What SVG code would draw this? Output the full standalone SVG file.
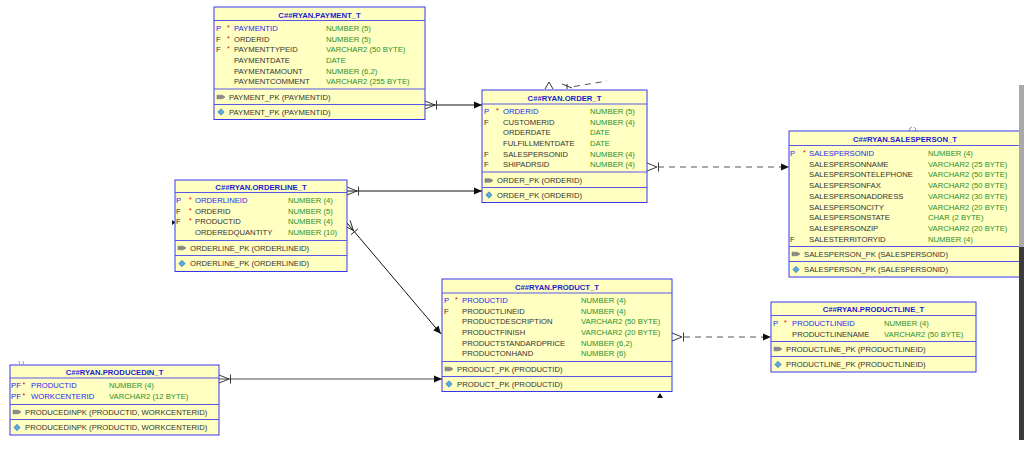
<svg xmlns="http://www.w3.org/2000/svg" width="1024" height="449" viewBox="0 0 1024 449">
<defs>
<style>
text{font-family:"Liberation Sans",Arial,sans-serif;font-size:7.7px;fill:#333}
.box{fill:#ffffc2;stroke:#3636f2;stroke-width:1}
.sep{stroke:#5858e8;stroke-width:1}
.hdr{font-weight:bold;fill:#1c1cd0;text-anchor:middle}
.pk{fill:#1f1ff5}
.ty{fill:#2a8f2a}
.ast{fill:#e00000;font-size:7px}
.conn{fill:none;stroke:#111;stroke-width:1}
.dash{fill:none;stroke:#555;stroke-width:1;stroke-dasharray:6 5}
.cf{fill:none;stroke:#222;stroke-width:0.9}
.key{fill:#8a8a8a;stroke:#666;stroke-width:0.5}
.dia{fill:#5aa8dc;stroke:#2a6fae;stroke-width:0.6}
</style>
<marker id="arr" viewBox="0 0 8 8" refX="8" refY="4" markerWidth="8" markerHeight="8" markerUnits="userSpaceOnUse" orient="auto">
<path d="M0,0.5 L8,4 L0,7.5 Z" fill="#111"/>
</marker>
<g id="keyicon"><path class="key" d="M0,-1.8 L5,-1.8 L7.5,-0.6 L7.5,0.6 L5,1.8 L0,1.8 Z"/></g>
<g id="diaicon"><path class="dia" d="M0,-3.2 L3.2,0 L0,3.2 L-3.2,0 Z"/></g>
</defs>

<!-- connectors -->
<g id="connectors">
<!-- payment -> order -->
<line class="conn" x1="425" y1="105" x2="482" y2="105" marker-end="url(#arr)"/>
<path class="cf" d="M425,101 L435,105 L425,109 M436.5,100.5 L436.5,109.5"/>
<!-- orderline -> order -->
<line class="conn" x1="347" y1="191" x2="482" y2="191" marker-end="url(#arr)"/>
<path class="cf" d="M347,187 L357,191 L347,195 M358.5,186.5 L358.5,195.5"/>
<!-- orderline -> product -->
<line class="conn" x1="347" y1="223" x2="441" y2="334" marker-end="url(#arr)"/>
<g transform="translate(347,223) rotate(49.7)">
<path class="cf" d="M0,-4 L10,0 L0,4 M11.5,-4.5 L11.5,4.5"/>
</g>
<!-- order -> salesperson -->
<line class="dash" x1="658" y1="167" x2="789" y2="167" marker-end="url(#arr)"/>
<path class="cf" d="M647,163 L657,167 L647,171 M658.5,162.5 L658.5,171.5"/>
<!-- product -> productline -->
<line class="dash" x1="684" y1="337" x2="771" y2="337" marker-end="url(#arr)"/>
<path class="cf" d="M672,333 L682,337 L672,341 M683.5,332.5 L683.5,341.5"/>
<!-- producedin -> product -->
<line x1="219" y1="379" x2="442" y2="379" stroke="#8a8a8a" stroke-width="1.6" marker-end="url(#arr)"/>
<path class="cf" d="M219,375 L229,379 L219,383 M230.5,374.5 L230.5,383.5"/>
<!-- fragments -->
<path class="cf" d="M545,89 L549,82 L553,89"/>
<path class="cf" d="M562,84 L572,88 M567,84 L567,89"/>
<line class="dash" x1="574" y1="86.5" x2="607" y2="81" stroke-dasharray="7 5"/>
<path d="M657,398 L660,393 L663,398 Z" fill="#111"/>
<path d="M172,220 L175.5,222.5 L172,225 Z" fill="#111"/>
<path d="M909,131 Q910,127 912,127 M914,127 Q916,128 916,131" fill="none" stroke="#666" stroke-width="0.7"/>
<path d="M19,361 L19.5,364 M23,361 L23.5,364" fill="none" stroke="#777" stroke-width="0.7"/>
</g>

<!-- PAYMENT_T -->
<g id="payment" transform="translate(214,7)">
<rect class="box" x="0" y="0" width="211" height="112.5"/>
<line class="sep" x1="0" y1="13.5" x2="211" y2="13.5"/>
<text class="hdr" x="105.5" y="10.5">C##RYAN.PAYMENT_T</text>
<text class="pk" x="2" y="23.8">P</text><text class="ast" x="13" y="22.8">*</text><text class="pk" x="20" y="23.8">PAYMENTID</text><text class="ty" x="112" y="23.8">NUMBER (5)</text>
<text x="2" y="34.5">F</text><text class="ast" x="13" y="33.5">*</text><text x="20" y="34.5">ORDERID</text><text class="ty" x="112" y="34.5">NUMBER (5)</text>
<text x="2" y="45.2">F</text><text class="ast" x="13" y="44.2">*</text><text x="20" y="45.2">PAYMENTTYPEID</text><text class="ty" x="112" y="45.2">VARCHAR2 (50 BYTE)</text>
<text x="20" y="55.9">PAYMENTDATE</text><text class="ty" x="112" y="55.9">DATE</text>
<text x="20" y="66.6">PAYMENTAMOUNT</text><text class="ty" x="112" y="66.6">NUMBER (6,2)</text>
<text x="20" y="77.3">PAYMENTCOMMENT</text><text class="ty" x="112" y="77.3">VARCHAR2 (255 BYTE)</text>
<line class="sep" x1="0" y1="82" x2="211" y2="82"/>
<use href="#keyicon" x="3" y="90"/><text x="15" y="92.8">PAYMENT_PK (PAYMENTID)</text>
<line class="sep" x1="0" y1="97.5" x2="211" y2="97.5"/>
<use href="#diaicon" x="7" y="105"/><text x="15" y="107.8">PAYMENT_PK (PAYMENTID)</text>
</g>

<!-- ORDER_T -->
<g id="order" transform="translate(482,90)">
<rect class="box" x="0" y="0" width="165" height="112.5"/>
<line class="sep" x1="0" y1="14" x2="165" y2="14"/>
<text class="hdr" x="82.5" y="10.6">C##RYAN.ORDER_T</text>
<text class="pk" x="2" y="23.8">P</text><text class="ast" x="14" y="22.8">*</text><text class="pk" x="21" y="23.8">ORDERID</text><text class="ty" x="108" y="23.8">NUMBER (5)</text>
<text x="2" y="34.5">F</text><text x="21" y="34.5">CUSTOMERID</text><text class="ty" x="108" y="34.5">NUMBER (4)</text>
<text x="21" y="45.2">ORDERDATE</text><text class="ty" x="108" y="45.2">DATE</text>
<text x="21" y="55.9">FULFILLMENTDATE</text><text class="ty" x="108" y="55.9">DATE</text>
<text x="2" y="66.6">F</text><text x="21" y="66.6">SALESPERSONID</text><text class="ty" x="108" y="66.6">NUMBER (4)</text>
<text x="2" y="77.3">F</text><text x="21" y="77.3">SHIPADRSID</text><text class="ty" x="108" y="77.3">NUMBER (4)</text>
<line class="sep" x1="0" y1="82" x2="165" y2="82"/>
<use href="#keyicon" x="3" y="90.5"/><text x="15" y="93.3">ORDER_PK (ORDERID)</text>
<line class="sep" x1="0" y1="97.5" x2="165" y2="97.5"/>
<use href="#diaicon" x="7" y="105"/><text x="15" y="107.8">ORDER_PK (ORDERID)</text>
</g>

<!-- ORDERLINE_T -->
<g id="orderline" transform="translate(175,180)">
<rect class="box" x="0" y="0" width="172" height="91.5"/>
<line class="sep" x1="0" y1="12.5" x2="172" y2="12.5"/>
<text class="hdr" x="86" y="9.8">C##RYAN.ORDERLINE_T</text>
<text class="pk" x="1" y="22.8">P</text><text class="ast" x="14" y="21.8">*</text><text class="pk" x="20" y="22.8">ORDERLINEID</text><text class="ty" x="113" y="22.8">NUMBER (4)</text>
<text x="1" y="33.5">F</text><text class="ast" x="14" y="32.5">*</text><text x="20" y="33.5">ORDERID</text><text class="ty" x="113" y="33.5">NUMBER (5)</text>
<text x="1" y="44.2">F</text><text class="ast" x="14" y="43.2">*</text><text x="20" y="44.2">PRODUCTID</text><text class="ty" x="113" y="44.2">NUMBER (4)</text>
<text x="20" y="54.9">ORDEREDQUANTITY</text><text class="ty" x="113" y="54.9">NUMBER (10)</text>
<line class="sep" x1="0" y1="60.5" x2="172" y2="60.5"/>
<use href="#keyicon" x="3" y="68"/><text x="15" y="70.8">ORDERLINE_PK (ORDERLINEID)</text>
<line class="sep" x1="0" y1="75.5" x2="172" y2="75.5"/>
<use href="#diaicon" x="7" y="83.5"/><text x="15" y="86.3">ORDERLINE_PK (ORDERLINEID)</text>
</g>

<!-- SALESPERSON_T -->
<g id="salesperson" transform="translate(789,131)">
<rect class="box" x="0" y="0" width="245" height="146"/>
<line class="sep" x1="0" y1="14.5" x2="245" y2="14.5"/>
<text class="hdr" x="116" y="10.8">C##RYAN.SALESPERSON_T</text>
<text class="pk" x="1" y="24.8">P</text><text class="ast" x="14" y="23.8">*</text><text class="pk" x="20" y="24.8">SALESPERSONID</text><text class="ty" x="139" y="24.8">NUMBER (4)</text>
<text x="20" y="35.55">SALESPERSONNAME</text><text class="ty" x="139" y="35.55">VARCHAR2 (25 BYTE)</text>
<text x="20" y="46.3">SALESPERSONTELEPHONE</text><text class="ty" x="139" y="46.3">VARCHAR2 (50 BYTE)</text>
<text x="20" y="57.05">SALESPERSONFAX</text><text class="ty" x="139" y="57.05">VARCHAR2 (50 BYTE)</text>
<text x="20" y="67.8">SALESPERSONADDRESS</text><text class="ty" x="139" y="67.8">VARCHAR2 (30 BYTE)</text>
<text x="20" y="78.55">SALESPERSONCITY</text><text class="ty" x="139" y="78.55">VARCHAR2 (20 BYTE)</text>
<text x="20" y="89.3">SALESPERSONSTATE</text><text class="ty" x="139" y="89.3">CHAR (2 BYTE)</text>
<text x="20" y="100.05">SALESPERSONZIP</text><text class="ty" x="139" y="100.05">VARCHAR2 (20 BYTE)</text>
<text x="1" y="110.8">F</text><text x="20" y="110.8">SALESTERRITORYID</text><text class="ty" x="139" y="110.8">NUMBER (4)</text>
<line class="sep" x1="0" y1="115.5" x2="245" y2="115.5"/>
<use href="#keyicon" x="3" y="123"/><text x="15" y="125.8">SALESPERSON_PK (SALESPERSONID)</text>
<line class="sep" x1="0" y1="130.5" x2="245" y2="130.5"/>
<use href="#diaicon" x="7" y="138.5"/><text x="15" y="141.3">SALESPERSON_PK (SALESPERSONID)</text>
</g>

<!-- PRODUCT_T -->
<g id="product" transform="translate(442,279)">
<rect class="box" x="0" y="0" width="230" height="112.5"/>
<line class="sep" x1="0" y1="14" x2="230" y2="14"/>
<text class="hdr" x="115" y="10.6">C##RYAN.PRODUCT_T</text>
<text class="pk" x="2" y="23.8">P</text><text class="ast" x="13" y="22.8">*</text><text class="pk" x="20" y="23.8">PRODUCTID</text><text class="ty" x="139" y="23.8">NUMBER (4)</text>
<text x="2" y="34.5">F</text><text x="20" y="34.5">PRODUCTLINEID</text><text class="ty" x="139" y="34.5">NUMBER (4)</text>
<text x="20" y="45.2">PRODUCTDESCRIPTION</text><text class="ty" x="139" y="45.2">VARCHAR2 (50 BYTE)</text>
<text x="20" y="55.9">PRODUCTFINISH</text><text class="ty" x="139" y="55.9">VARCHAR2 (20 BYTE)</text>
<text x="20" y="66.6">PRODUCTSTANDARDPRICE</text><text class="ty" x="139" y="66.6">NUMBER (6,2)</text>
<text x="20" y="77.3">PRODUCTONHAND</text><text class="ty" x="139" y="77.3">NUMBER (6)</text>
<line class="sep" x1="0" y1="82.5" x2="230" y2="82.5"/>
<use href="#keyicon" x="3" y="90"/><text x="15" y="92.8">PRODUCT_PK (PRODUCTID)</text>
<line class="sep" x1="0" y1="97.5" x2="230" y2="97.5"/>
<use href="#diaicon" x="7" y="105"/><text x="15" y="107.8">PRODUCT_PK (PRODUCTID)</text>
</g>

<!-- PRODUCTLINE_T -->
<g id="productline" transform="translate(771,302)">
<rect class="box" x="0" y="0" width="205" height="70"/>
<line class="sep" x1="0" y1="13.5" x2="205" y2="13.5"/>
<text class="hdr" x="102.5" y="9.8">C##RYAN.PRODUCTLINE_T</text>
<text class="pk" x="2" y="23.8">P</text><text class="ast" x="13" y="22.8">*</text><text class="pk" x="21" y="23.8">PRODUCTLINEID</text><text class="ty" x="113" y="23.8">NUMBER (4)</text>
<text x="21" y="34.5">PRODUCTLINENAME</text><text class="ty" x="113" y="34.5">VARCHAR2 (50 BYTE)</text>
<line class="sep" x1="0" y1="39.5" x2="205" y2="39.5"/>
<use href="#keyicon" x="3" y="47"/><text x="15" y="49.8">PRODUCTLINE_PK (PRODUCTLINEID)</text>
<line class="sep" x1="0" y1="54.5" x2="205" y2="54.5"/>
<use href="#diaicon" x="7" y="62.5"/><text x="15" y="65.3">PRODUCTLINE_PK (PRODUCTLINEID)</text>
</g>

<!-- PRODUCEDIN_T -->
<g id="producedin" transform="translate(10,365)">
<rect class="box" x="0" y="0" width="209" height="70"/>
<line class="sep" x1="0" y1="13" x2="209" y2="13"/>
<text class="hdr" x="104.5" y="9.8">C##RYAN.PRODUCEDIN_T</text>
<text class="pk" x="1" y="23.3">PF</text><text class="ast" x="12.5" y="22.3">*</text><text class="pk" x="21" y="23.3">PRODUCTID</text><text class="ty" x="99" y="23.3">NUMBER (4)</text>
<text class="pk" x="1" y="33.8">PF</text><text class="ast" x="12.5" y="32.8">*</text><text class="pk" x="21" y="33.8">WORKCENTERID</text><text class="ty" x="99" y="33.8">VARCHAR2 (12 BYTE)</text>
<line class="sep" x1="0" y1="39.5" x2="209" y2="39.5"/>
<use href="#keyicon" x="3" y="47"/><text x="15" y="49.8">PRODUCEDINPK (PRODUCTID, WORKCENTERID)</text>
<line class="sep" x1="0" y1="54.5" x2="209" y2="54.5"/>
<use href="#diaicon" x="7" y="62.5"/><text x="15" y="65.3">PRODUCEDINPK (PRODUCTID, WORKCENTERID)</text>
</g>

<!-- scrollbar -->
<rect x="1019" y="85" width="5" height="162" fill="#a9a9a9"/>
<rect x="1019" y="247" width="5" height="193" fill="#3a3a3a"/>
</svg>
